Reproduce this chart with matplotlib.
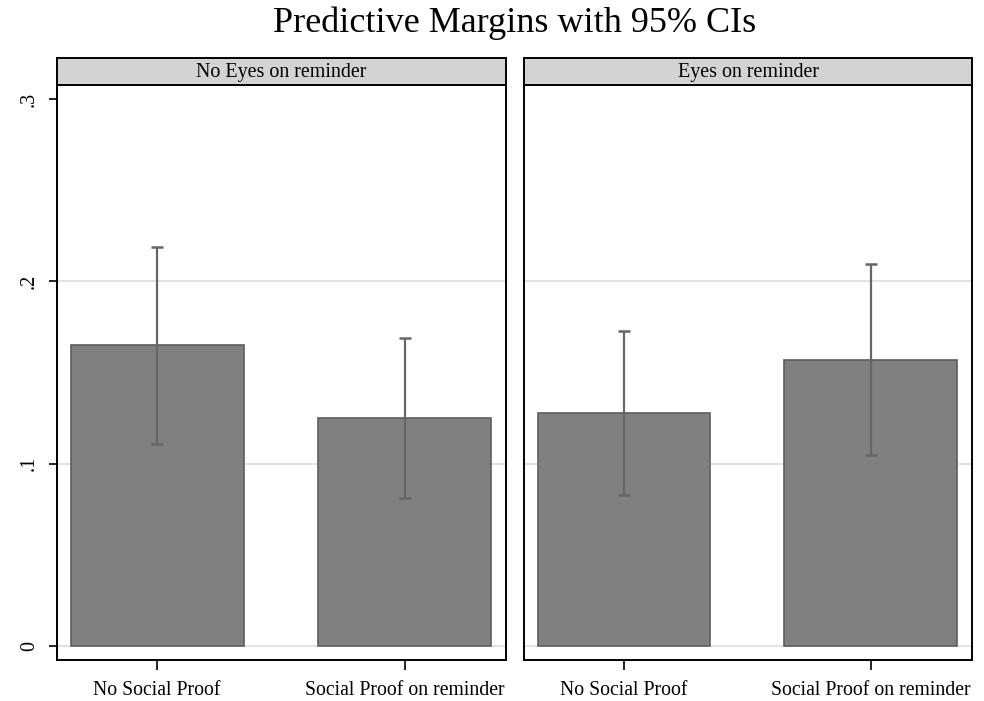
import numpy as np
import matplotlib.pyplot as plt

plt.rcParams['font.family'] = ['Liberation Serif', 'DejaVu Serif']

panels = ['No Eyes on reminder', 'Eyes on reminder']
categories = ['No Social Proof', 'Social Proof on reminder']
margins = [[0.165, 0.125], [0.128, 0.157]]
ci_low = [[0.111, 0.081], [0.083, 0.105]]
ci_high = [[0.219, 0.169], [0.173, 0.2095]]
yticks = [0, 0.1, 0.2, 0.3]
ytick_labels = ['0', '.1', '.2', '.3']

fig = plt.figure(figsize=(9.84, 7.01), dpi=100)
W, H = 984, 701

def px_axes(x0, y0, x1, y1):
    return fig.add_axes([x0 / W, 1 - y1 / H, (x1 - x0) / W, (y1 - y0) / H])

boxes = [(57, 85, 506, 660), (524, 85, 972, 660)]
x = np.arange(len(categories))

for i, (x0, y0, x1, y1) in enumerate(boxes):
    ax = px_axes(x0, y0, x1, y1)
    for g in [0, 0.1, 0.2]:
        ax.axhline(g, color='#e3e3e3', lw=1.5, zorder=0)
    m = np.array(margins[i])
    lo = m - np.array(ci_low[i])
    hi = np.array(ci_high[i]) - m
    ax.bar(x, m, width=0.7, color='#808080', edgecolor='#5e5e5e', lw=1.2, zorder=2)
    ax.errorbar(x, m, yerr=[lo, hi], fmt='none', ecolor='#666666', elinewidth=1.6,
                capsize=4, capthick=1.8, zorder=3)
    ax.set_xlim(-0.405, 1.41)
    ax.set_ylim(-0.0077, 0.3077)
    ax.set_xticks(x)
    ax.set_xticklabels(categories, fontsize=14.2)
    ax.tick_params(axis='x', length=7, width=1.2, pad=8)
    if i == 0:
        ax.set_yticks(yticks)
        ax.set_yticklabels(ytick_labels, fontsize=14.5, rotation=90, va='center')
        ax.tick_params(axis='y', length=6, width=1.2, pad=7)
    else:
        ax.set_yticks([])
    for s in ax.spines.values():
        s.set_linewidth(1.4)
        s.set_color('black')

    # strip header
    sx = px_axes(x0, 58, x1, 85)
    sx.set_facecolor('#d3d3d3')
    sx.set_xticks([])
    sx.set_yticks([])
    for s in sx.spines.values():
        s.set_linewidth(1.4)
    sx.text(0.5, 0.47, panels[i], ha='center', va='center', fontsize=14.4,
            transform=sx.transAxes)

fig.text(515 / W, 1 - 23 / H, 'Predictive Margins with 95% CIs', ha='center',
         va='center', fontsize=26)

fig.savefig('out.png', dpi=100)
